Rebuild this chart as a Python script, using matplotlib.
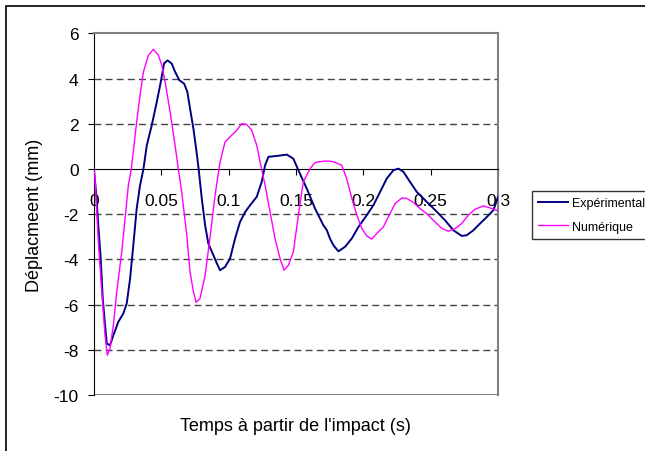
import matplotlib
matplotlib.use("Agg")
import matplotlib.pyplot as plt
from matplotlib.patches import Rectangle

plt.rcParams['font.family'] = ['Liberation Sans', 'DejaVu Sans']
plt.rcParams['axes.unicode_minus'] = False

# ---- data ----
t_exp = [0, 0.0016, 0.0033, 0.0051, 0.0066, 0.0083, 0.0096, 0.012, 0.0145, 0.0182,
         0.0219, 0.0244, 0.0269, 0.0293, 0.0318, 0.0343, 0.0368, 0.0393, 0.043, 0.0467,
         0.0497, 0.0521, 0.0546, 0.0578, 0.0603, 0.0635, 0.067, 0.0694, 0.0714, 0.0739,
         0.0759, 0.0778, 0.0801, 0.0826, 0.085, 0.0887, 0.0915, 0.0937, 0.0974, 0.1011,
         0.1048, 0.1085, 0.1123, 0.116, 0.1209, 0.1246, 0.1271, 0.1296, 0.1358, 0.1432,
         0.1481, 0.1518, 0.158, 0.1642, 0.1704, 0.1729, 0.1753, 0.1778, 0.1815, 0.1865,
         0.1915, 0.1964, 0.2026, 0.2075, 0.2125, 0.2174, 0.2224, 0.2261, 0.2298, 0.2347,
         0.2397, 0.2471, 0.2546, 0.2607, 0.2669, 0.2731, 0.2768, 0.2817, 0.2867, 0.2917,
         0.2966, 0.3]
d_exp = [0, -1.0, -2.49, -3.96, -5.73, -6.9, -7.72, -7.8, -7.35, -6.76,
         -6.39, -5.95, -4.85, -3.37, -1.75, -0.72, 0.0, 1.05, 1.94, 2.97,
         3.86, 4.67, 4.81, 4.67, 4.3, 3.93, 3.78, 3.42, 2.68, 1.79,
         0.91, 0.0, -1.3, -2.49, -3.3, -3.81, -4.2, -4.48, -4.33, -3.96,
         -3.08, -2.34, -1.9, -1.6, -1.23, -0.57, 0.17, 0.54, 0.58, 0.64,
         0.46, -0.05, -0.86, -1.75, -2.49, -2.7, -3.08, -3.37, -3.64, -3.44,
         -3.07, -2.56, -2.04, -1.6, -1.01, -0.42, -0.05, 0.02, -0.12, -0.57,
         -1.01, -1.45, -1.89, -2.27, -2.71, -2.96, -2.93, -2.71, -2.41, -2.12,
         -1.82, -1.23]

t_num = [0, 0.0009, 0.0033, 0.0059, 0.0083, 0.01, 0.012, 0.0145, 0.017, 0.0207,
         0.0232, 0.0256, 0.0278, 0.0318, 0.0343, 0.0368, 0.0405, 0.0442, 0.0479, 0.0504,
         0.0529, 0.0566, 0.0603, 0.0627, 0.0652, 0.069, 0.0714, 0.0739, 0.0759, 0.0788,
         0.0826, 0.0863, 0.09, 0.0937, 0.0974, 0.1024, 0.1061, 0.1098, 0.1135, 0.1172,
         0.1209, 0.1239, 0.1271, 0.1308, 0.1345, 0.1382, 0.1412, 0.1444, 0.1481, 0.1518,
         0.1555, 0.1605, 0.1642, 0.1704, 0.1753, 0.1778, 0.184, 0.1877, 0.1915, 0.1952,
         0.1989, 0.2026, 0.2063, 0.21, 0.2149, 0.2186, 0.2236, 0.2286, 0.2323, 0.2372,
         0.2422, 0.2471, 0.252, 0.2583, 0.2632, 0.2682, 0.2731, 0.278, 0.283, 0.2892,
         0.2941, 0.3]
d_num = [0, -0.42, -3.2, -5.43, -7.35, -8.24, -7.94, -6.91, -5.43, -3.66,
         -2.19, -0.72, 0.0, 2.09, 3.27, 4.3, 5.04, 5.3, 5.04, 4.6,
         3.86, 2.53, 1.05, 0.0, -1.0, -2.93, -4.55, -5.43, -5.9, -5.73,
         -4.7, -3.0, -1.15, 0.32, 1.2, 1.5, 1.72, 2.01, 1.97, 1.72,
         1.05, 0.17, -0.72, -1.89, -3.08, -3.96, -4.48, -4.26, -3.66, -2.04,
         -0.57, 0.02, 0.29, 0.35, 0.35, 0.32, 0.17, -0.42, -1.3, -2.04,
         -2.63, -2.96, -3.1, -2.85, -2.56, -2.12, -1.53, -1.28, -1.3, -1.48,
         -1.75, -1.97, -2.27, -2.63, -2.75, -2.63, -2.41, -2.04, -1.78, -1.63,
         -1.72, -1.85]

x_ticks = [0, 0.05, 0.1, 0.15, 0.2, 0.25, 0.3]
x_labels = ['0', '0.05', '0.1', '0.15', '0.2', '0.25', '0.3']
y_ticks = [6, 4, 2, 0, -2, -4, -6, -8, -10]
y_labels = ['6', '4', '2', '0', '-2', '-4', '-6', '-8', '-10']
grid_levels = [4, 2, -2, -4, -6, -8]

fig = plt.figure(figsize=(6.45, 4.52), dpi=100)
ax = fig.add_axes([0.1455, 0.1239, 0.6266, 0.7998])

# outer frame of the chart
fig.patches.append(Rectangle((0.009, -0.05), 1.2, 1.035, transform=fig.transFigure,
                             fill=False, edgecolor='black', linewidth=1.2))

for lvl in grid_levels:
    ax.axhline(lvl, color='#444444', linewidth=1, linestyle=(0, (5, 3)), zorder=1)
ax.axhline(-10, color='#808080', linewidth=1.5, zorder=1)

ax.plot(t_exp, d_exp, color='#000080', linewidth=1.4, label='Expérimental', zorder=3)
ax.plot(t_num, d_num, color='#FF00FF', linewidth=1.0, label='Numérique', zorder=3)

ax.set_xlim(0, 0.3)
ax.set_ylim(-10, 6)

ax.spines['bottom'].set_position(('data', 0))
ax.spines['bottom'].set_color('black')
ax.spines['left'].set_color('black')
ax.spines['top'].set_color('#808080')
ax.spines['right'].set_color('#808080')
ax.spines['top'].set_linewidth(1.5)
ax.spines['right'].set_linewidth(1.5)

ax.set_xticks(x_ticks)
ax.set_xticklabels(x_labels)
ax.set_yticks(y_ticks)
ax.set_yticklabels(y_labels)
ax.tick_params(axis='x', direction='out', length=4, pad=13, labelsize=12.5)
ax.tick_params(axis='y', direction='out', length=4, pad=7, labelsize=12.5)

fig.text(34.5 / 645, 1 - 215 / 452, 'Déplacmeent (mm)', fontsize=13,
         rotation=90, ha='center', va='center')
fig.text(0.4587, 1 - 427 / 452, "Temps à partir de l'impact (s)", fontsize=13,
         ha='center', va='center')

leg = ax.legend(loc='upper left', bbox_to_anchor=(532 / 645, 1 - 192 / 452),
                bbox_transform=fig.transFigure, fontsize=9, frameon=True,
                fancybox=False, edgecolor='black', borderaxespad=0,
                handlelength=2.4, handletextpad=0.3, labelspacing=0.9,
                borderpad=0.5)
leg.get_frame().set_linewidth(1.0)

fig.savefig('out.png', dpi=100)
